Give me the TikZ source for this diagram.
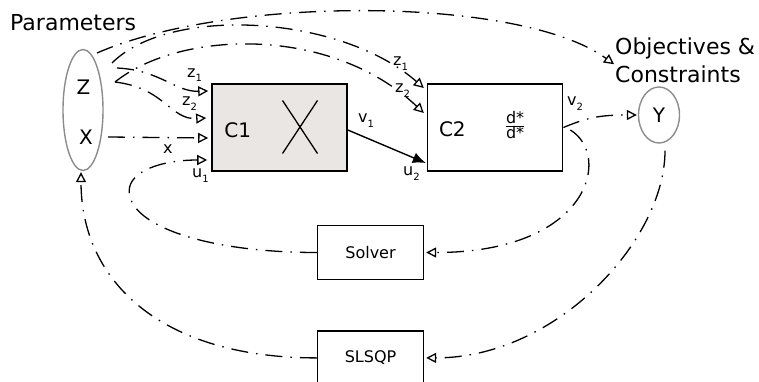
\documentclass[tikz,border=0pt]{standalone}
\usepackage{fontspec}
\setmainfont{DejaVu Sans}
\usetikzlibrary{arrows.meta,positioning,shapes.geometric,calc}
\definecolor{blockfill}{HTML}{EAE6E4}
\definecolor{setgrey}{HTML}{8C8C8C}
\newcommand\bigfont{\fontsize{20}{24}\selectfont}
\newcommand\titlefont{\fontsize{22}{27.4}\selectfont}
\newcommand\midfont{\fontsize{16}{19}\selectfont}
\newcommand\lblfont{\fontsize{16}{19}\selectfont}
\newcommand\lsub[1]{\raisebox{-5pt}{\fontsize{10}{12}\selectfont #1}}
\tikzset{
  blk/.style  ={draw,line width=1.6pt,minimum width=135pt,minimum height=87pt,
                inner sep=0pt},
  algo/.style ={draw,line width=1.4pt,minimum width=106pt,minimum height=54pt,
                font=\midfont},
  set/.style  ={draw=setgrey,ellipse,line width=1.4pt,inner sep=0pt},
  txt/.style  ={inner sep=0pt,font=\bigfont},
  lbl/.style  ={inner sep=0pt,anchor=base west,font=\lblfont},
  sig/.style  ={line width=1.3pt,dash pattern=on 17pt off 8pt on 1.5pt off 8pt,
                -{Triangle[open,length=10pt,width=10pt]}},
  link/.style ={line width=1.4pt,-{Latex[length=13pt,width=11pt]}},
}

\begin{document}
\begin{tikzpicture}[x=1pt,y=1pt]
  \useasboundingbox (0,0) rectangle (759,381);

  % parameter set
  \node[txt,font=\titlefont,anchor=base west] (par) at (10,350.3) {Parameters};
  \node[set,minimum width=40pt,minimum height=121pt] (zx) at (83,271) {};
  \node[txt] (zl) at (83.5,294) {Z};
  \node[txt] (xl) at (86,243.5) {X};

  % components
  \node[blk,fill=blockfill] (c1) at (279.5,253.5) {};
  \node[blk,right=79pt of c1] (c2) {};
  \node[txt,anchor=base west] (c1l) at ($(c1.west)+(13,-9.5)$) {C1};
  \node[txt,anchor=base west] (c2l) at ($(c2.west)+(12,-8.5)$) {C2};
  \node[inner sep=0pt,font=\fontsize{16}{19}\selectfont] (c2d)
    at ($(c2)+(20,2.5)$) {$\frac{\mbox{d*}}{\mbox{d*}}$};
  \coordinate (c1x) at ($(c1)+(20.5,0.5)$);
  \draw[line width=1.3pt] ($(c1x)+(-17.5,26.5)$) -- ($(c1x)+(17.5,-26.5)$)
                          ($(c1x)+(17.5,26.5)$) -- ($(c1x)+(-17.5,-26.5)$);

  % objectives
  \node[set,font=\bigfont,minimum width=41pt,minimum height=56pt] (y) at (659,266) {Y};
  \node[txt,font=\titlefont,anchor=north west,align=left] (obj) at (615,343.2)
    {Objectives \&\\Constraints};

  % drivers
  \node[algo] (solver) at (370.5,128.5) {Solver};
  \node[algo,below=50pt of solver] (slsqp) {SLSQP};

  % ports
  \coordinate (ztop) at ($(zx)+(14,57)$);
  \coordinate (zo1)  at ($(zx)+(29,47)$);
  \coordinate (zo2)  at ($(zx)+(34,42)$);
  \coordinate (zo3)  at ($(zx)+(32,28)$);
  \coordinate (xo)   at ($(zx)+(25,-27)$);
  \coordinate (c1z1) at ($(c1.west)+(-3,36.5)$);
  \coordinate (c1z2) at ($(c1.west)+(-5,9.5)$);
  \coordinate (c1xi) at ($(c1.west)+(-3,-10.5)$);
  \coordinate (c1u1) at ($(c1.west)+(-4,-32.5)$);
  \coordinate (c2z1) at ($(c2.west)+(-3,39.5)$);
  \coordinate (c2z2) at ($(c2.west)+(-3,14.5)$);
  \coordinate (c2u2) at ($(c2.west)+(-1,-35.5)$);
  \coordinate (c2o)  at ($(c2.east)+(7,-2.5)$);
  \coordinate (yo)   at ($(y.south)+(6,-7)$);
  \coordinate (loop) at ($(c1.south west)+(-82,-19)$);

  % connectors
  \draw[sig] (ztop) .. controls +(133,58) and +(-93,68) .. ($(obj.west)+(-1,-4)$);
  \draw[sig] (zo1) .. controls +(58,58) and +(-83,73) .. (c2z1);
  \draw[sig] (zo3) .. controls +(65,52) and +(-93,88) .. (c2z2);
  \draw[sig] (zo2) .. controls +(43,-2) and +(-33,-1) .. (c1z1);
  \draw[sig] (zo3) .. controls +(50,-6) and +(-36,-2) .. (c1z2);
  \draw[sig] (xo) -- (c1xi);
  \draw[sig] (solver.west) .. controls +(-110,0) and +(0,-35) .. (loop)
                           .. controls +(0,19) and +(-47,0) .. (c1u1);
  \draw[link] ($(c1.east)+(0,-2.5)$) -- (c2u2);
  \draw[sig] (c2.east) .. controls +(24,10) and +(-37,0) .. ($(y.west)+(-1,0)$);
  \draw[sig] (c2o) .. controls +(42,-26) and +(163,0) .. ($(solver.east)+(2,0)$);
  \draw[sig] (yo) .. controls +(0,-90) and +(130,0) .. ($(slsqp.east)+(2,0)$);
  \draw[sig] (slsqp.west) .. controls +(-156,0) and +(0,-109) .. ($(zx.south)+(-2,-1)$);

  % signal labels
  \node[lbl] (lz1a) at (187,304) {z\lsub{1}};
  \node[lbl] (lz2a) at (182,276) {z\lsub{2}};
  \node[lbl] (lx)   at (163,228) {x};
  \node[lbl] (lu1)  at (192,204) {u\lsub{1}};
  \node[lbl] (lv1)  at (358,259) {v\lsub{1}};
  \node[lbl] (lu2)  at (403,206) {u\lsub{2}};
  \node[lbl] (lz1b) at (393,315) {z\lsub{1}};
  \node[lbl] (lz2b) at (395,288) {z\lsub{2}};
  \node[lbl] (lv2)  at (567,276) {v\lsub{2}};
\end{tikzpicture}
\end{document}
